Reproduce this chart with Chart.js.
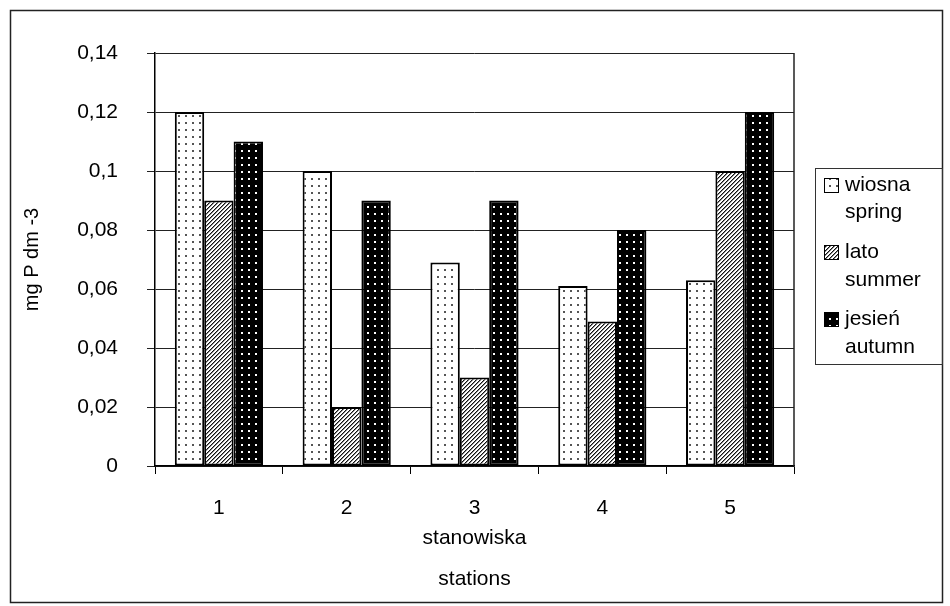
<!DOCTYPE html>
<html>
<head>
<meta charset="utf-8">
<script src="https://cdn.jsdelivr.net/npm/chart.js@4.4.1/dist/chart.umd.min.js"></script>
<style>
html, body { margin: 0; padding: 0; background: #fff; }
</style>
</head>
<body>
<canvas id="myChart" width="950" height="606"></canvas>
<script>
// datos
const stations = ['1', '2', '3', '4', '5'];
const spring = [0.12, 0.10, 0.069, 0.061, 0.063];
const summer = [0.09, 0.02, 0.03, 0.049, 0.10];
const autumn = [0.11, 0.09, 0.09, 0.08, 0.12];
const legendLines = [['wiosna', 'spring'], ['lato', 'summer'], ['jesień', 'autumn']];
const yTitle = 'mg P dm -3';
const xTitle = ['stanowiska', 'stations'];

const FONT = '"Liberation Sans", Arial, sans-serif';

//patrones de relleno de las barras
function makePattern(kind) {
	const c = document.createElement('canvas');
	const g = c.getContext('2d');
	if (kind === 'spring') {
		c.width = 7; c.height = 7;
		g.fillStyle = '#fff'; g.fillRect(0, 0, 7, 7);
		g.fillStyle = '#555'; g.fillRect(3, 3, 2, 2);
	} else if (kind === 'summer') {
		c.width = 4; c.height = 4;
		g.fillStyle = '#fff'; g.fillRect(0, 0, 4, 4);
		for (let y = 0; y < 4; y++) {
			const x = 3 - y;
			g.fillStyle = '#111';
			g.fillRect(x, y, 1, 1);
			g.fillStyle = '#888';
			g.fillRect((x + 1) % 4, y, 1, 1);
		}
	} else {
		c.width = 7; c.height = 7;
		g.fillStyle = '#000'; g.fillRect(0, 0, 7, 7);
		g.fillStyle = '#fff'; g.fillRect(3, 3, 2, 2);
	}
	return g.createPattern(c, 'repeat');
}

const fills = [makePattern('spring'), makePattern('summer'), makePattern('autumn')];

function fmt(v) {
	return String(Math.round(v * 100) / 100).replace('.', ',');
}

const framePlugin = {
	id: 'frame',
	beforeDraw: function (chart) {
		const ctx = chart.ctx;
		ctx.save();
		ctx.fillStyle = '#fff';
		ctx.fillRect(0, 0, chart.width, chart.height);
		ctx.restore();
	},
	afterDraw: function (chart) {
		const ctx = chart.ctx;
		const a = chart.chartArea;
		ctx.save();
		ctx.strokeStyle = '#222';
		ctx.lineWidth = 1.5;
		ctx.strokeRect(10.5, 10.5, 932, 592);
		// borde derecho del area
		ctx.beginPath();
		ctx.moveTo(a.right, a.top);
		ctx.lineTo(a.right, a.bottom);
		ctx.stroke();
		// leyenda
		ctx.lineWidth = 1;
		ctx.strokeStyle = '#333';
		ctx.strokeRect(815.5, 168.5, 127, 196);
		const rows = [[185, 212], [252, 280], [319, 347]];
		ctx.font = '21px ' + FONT;
		ctx.textBaseline = 'middle';
		for (let i = 0; i < legendLines.length; i++) {
			ctx.fillStyle = fills[i];
			ctx.fillRect(824, rows[i][0] - 7, 15, 15);
			ctx.strokeStyle = '#000';
			ctx.strokeRect(824.5, rows[i][0] - 6.5, 14, 14);
			ctx.fillStyle = '#000';
			ctx.fillText(legendLines[i][0], 845, rows[i][0]);
			ctx.fillText(legendLines[i][1], 845, rows[i][1]);
		}
		ctx.restore();
	}
};

const data = {
	labels: stations,
	datasets: [
		{ label: 'wiosna spring', data: spring, backgroundColor: fills[0] },
		{ label: 'lato summer', data: summer, backgroundColor: fills[1] },
		{ label: 'jesień autumn', data: autumn, backgroundColor: fills[2] }
	]
};
data.datasets.forEach(function (d) {
	d.borderColor = '#000';
	d.borderWidth = 2;
	d.borderSkipped = false;
	d.categoryPercentage = 0.69;
	d.barPercentage = 1.0;
});

const config = {
	type: 'bar',
	data: data,
	options: {
		responsive: false,
		animation: false,
		layout: { padding: { left: 0, right: 156, top: 53, bottom: 0 } },
		plugins: { legend: { display: false }, tooltip: { enabled: false } },
		scales: {
			x: {
				afterFit: function (s) { s.height = 140; },
				grid: { drawOnChartArea: false, drawTicks: true, tickLength: 8, color: '#000', lineWidth: 1 },
				border: { display: true, color: '#000', width: 1.5 },
				ticks: { color: '#000', padding: 22, font: { family: FONT, size: 21 } },
				title: {
					display: true, text: xTitle, color: '#000',
					font: { family: FONT, size: 21, lineHeight: 1.95 },
					padding: { top: 0, bottom: 6 }
				}
			},
			y: {
				min: 0, max: 0.14,
				afterFit: function (s) { s.width = 155; },
				grid: { color: '#222', lineWidth: 1, drawTicks: true, tickLength: 8 },
				border: { display: true, color: '#000', width: 1.5 },
				ticks: {
					stepSize: 0.02, color: '#000', padding: 29,
					font: { family: FONT, size: 21 },
					callback: function (v) { return fmt(v); }
				},
				title: {
					display: true, text: yTitle, color: '#000',
					font: { family: FONT, size: 20 },
					padding: { top: 20, bottom: 0 }
				}
			}
		}
	},
	plugins: [framePlugin]
};

const myChart = new Chart(document.getElementById('myChart'), config);
</script>
</body>
</html>
